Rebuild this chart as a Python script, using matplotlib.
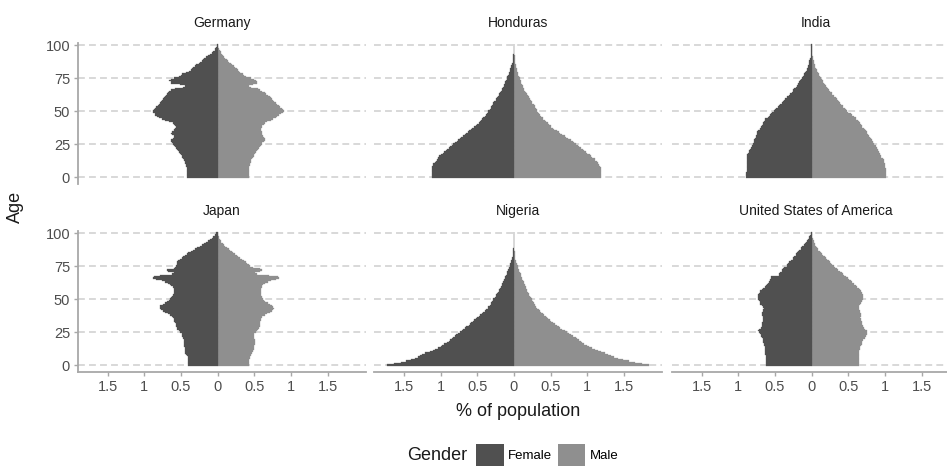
import numpy as np
import matplotlib
matplotlib.use('Agg')
import matplotlib.pyplot as plt
from matplotlib.patches import Patch

plt.rcParams['font.family'] = ['Liberation Sans', 'DejaVu Sans']

# Dados: % da populacao por idade (0 a 100)
idades = list(range(101))
paises = ['Germany', 'Honduras', 'India', 'Japan', 'Nigeria', 'United States of America']

germany_f = [0.42, 0.42, 0.42, 0.42, 0.42, 0.42, 0.42, 0.42, 0.43, 0.43,
             0.44, 0.44, 0.45, 0.46, 0.47, 0.48, 0.49, 0.50, 0.51, 0.53,
             0.54, 0.56, 0.57, 0.58, 0.60, 0.61, 0.62, 0.63, 0.63, 0.61,
             0.60, 0.60, 0.62, 0.63, 0.62, 0.60, 0.59, 0.58, 0.57, 0.58,
             0.59, 0.61, 0.66, 0.72, 0.76, 0.80, 0.83, 0.85, 0.86, 0.88,
             0.88, 0.87, 0.86, 0.84, 0.82, 0.80, 0.78, 0.77, 0.76, 0.74,
             0.73, 0.72, 0.70, 0.69, 0.68, 0.66, 0.63, 0.58, 0.47, 0.45,
             0.52, 0.63, 0.64, 0.66, 0.63, 0.60, 0.53, 0.50, 0.48, 0.43,
             0.39, 0.37, 0.35, 0.33, 0.31, 0.29, 0.26, 0.24, 0.22, 0.20,
             0.18, 0.16, 0.13, 0.10, 0.08, 0.06, 0.04, 0.03, 0.02, 0.01,
             0.005]
germany_m = [0.43, 0.43, 0.43, 0.43, 0.43, 0.43, 0.43, 0.43, 0.43, 0.44,
             0.44, 0.45, 0.45, 0.46, 0.47, 0.48, 0.49, 0.50, 0.51, 0.52,
             0.53, 0.55, 0.56, 0.57, 0.59, 0.60, 0.61, 0.63, 0.65, 0.65,
             0.63, 0.62, 0.61, 0.60, 0.60, 0.59, 0.59, 0.59, 0.60, 0.61,
             0.63, 0.64, 0.67, 0.72, 0.76, 0.79, 0.81, 0.84, 0.86, 0.89,
             0.90, 0.89, 0.87, 0.85, 0.83, 0.81, 0.79, 0.77, 0.76, 0.74,
             0.73, 0.71, 0.68, 0.66, 0.64, 0.61, 0.58, 0.55, 0.45, 0.43,
             0.48, 0.53, 0.53, 0.52, 0.50, 0.45, 0.39, 0.36, 0.34, 0.31,
             0.29, 0.27, 0.26, 0.24, 0.22, 0.20, 0.18, 0.16, 0.14, 0.12,
             0.10, 0.09, 0.07, 0.06, 0.05, 0.04, 0.03, 0.02, 0.01, 0.01,
             0.005]

honduras_f = [1.12, 1.12, 1.12, 1.12, 1.12, 1.12, 1.12, 1.12, 1.12, 1.11,
              1.10, 1.08, 1.07, 1.05, 1.04, 1.03, 1.02, 0.99, 0.97, 0.95,
              0.93, 0.91, 0.89, 0.87, 0.85, 0.83, 0.80, 0.78, 0.76, 0.74,
              0.72, 0.70, 0.67, 0.65, 0.63, 0.61, 0.59, 0.57, 0.55, 0.52,
              0.50, 0.48, 0.46, 0.45, 0.43, 0.42, 0.40, 0.38, 0.37, 0.36,
              0.35, 0.33, 0.32, 0.31, 0.30, 0.29, 0.28, 0.27, 0.25, 0.24,
              0.23, 0.22, 0.21, 0.20, 0.19, 0.18, 0.17, 0.16, 0.15, 0.14,
              0.13, 0.12, 0.12, 0.11, 0.10, 0.09, 0.09, 0.08, 0.07, 0.07,
              0.06, 0.05, 0.05, 0.04, 0.04, 0.03, 0.03, 0.02, 0.02, 0.02,
              0.01, 0.01, 0.01, 0.01, 0.005, 0.005, 0.005, 0.005, 0.005, 0.005,
              0.005]
honduras_m = [1.18, 1.18, 1.18, 1.18, 1.18, 1.18, 1.18, 1.18, 1.17, 1.16,
              1.15, 1.14, 1.13, 1.11, 1.10, 1.07, 1.05, 1.03, 1.00, 0.98,
              0.96, 0.94, 0.91, 0.89, 0.87, 0.85, 0.82, 0.80, 0.78, 0.74,
              0.71, 0.69, 0.66, 0.63, 0.61, 0.58, 0.55, 0.53, 0.51, 0.50,
              0.48, 0.46, 0.44, 0.42, 0.40, 0.39, 0.37, 0.35, 0.34, 0.33,
              0.32, 0.31, 0.30, 0.29, 0.28, 0.27, 0.25, 0.24, 0.23, 0.22,
              0.21, 0.20, 0.19, 0.18, 0.17, 0.15, 0.14, 0.13, 0.12, 0.12,
              0.11, 0.10, 0.10, 0.09, 0.08, 0.08, 0.07, 0.06, 0.06, 0.05,
              0.04, 0.04, 0.04, 0.03, 0.03, 0.03, 0.02, 0.02, 0.02, 0.01,
              0.01, 0.01, 0.01, 0.005, 0.005, 0.005, 0.005, 0.005, 0.005, 0.005,
              0.005]

india_f = [0.89, 0.89, 0.89, 0.89, 0.88, 0.88, 0.88, 0.88, 0.88, 0.88,
           0.88, 0.88, 0.88, 0.88, 0.88, 0.88, 0.88, 0.88, 0.87, 0.86,
           0.85, 0.84, 0.83, 0.82, 0.81, 0.80, 0.79, 0.78, 0.78, 0.77,
           0.76, 0.76, 0.75, 0.74, 0.74, 0.73, 0.71, 0.70, 0.69, 0.68,
           0.67, 0.66, 0.65, 0.64, 0.63, 0.60, 0.58, 0.57, 0.55, 0.54,
           0.52, 0.50, 0.48, 0.46, 0.44, 0.43, 0.41, 0.39, 0.38, 0.36,
           0.34, 0.33, 0.31, 0.29, 0.27, 0.26, 0.25, 0.24, 0.22, 0.20,
           0.19, 0.18, 0.17, 0.16, 0.15, 0.13, 0.12, 0.11, 0.10, 0.09,
           0.08, 0.07, 0.06, 0.05, 0.05, 0.04, 0.04, 0.03, 0.03, 0.02,
           0.02, 0.01, 0.01, 0.01, 0.005, 0.005, 0.005, 0.005, 0.005, 0.005,
           0.005]
india_m = [1.01, 1.01, 1.01, 1.01, 1.01, 1.01, 1.01, 1.00, 1.00, 1.00,
           1.00, 0.99, 0.98, 0.98, 0.97, 0.95, 0.94, 0.93, 0.93, 0.92,
           0.91, 0.90, 0.89, 0.88, 0.87, 0.85, 0.84, 0.83, 0.82, 0.81,
           0.80, 0.78, 0.77, 0.76, 0.75, 0.74, 0.72, 0.71, 0.69, 0.68,
           0.67, 0.66, 0.65, 0.63, 0.61, 0.60, 0.57, 0.55, 0.53, 0.50,
           0.48, 0.47, 0.45, 0.43, 0.42, 0.40, 0.39, 0.37, 0.36, 0.34,
           0.33, 0.31, 0.30, 0.28, 0.27, 0.25, 0.24, 0.22, 0.21, 0.20,
           0.18, 0.17, 0.16, 0.15, 0.14, 0.13, 0.11, 0.10, 0.10, 0.08,
           0.07, 0.07, 0.06, 0.05, 0.05, 0.04, 0.03, 0.03, 0.03, 0.02,
           0.02, 0.015, 0.01, 0.005, 0.005, 0.005, 0.005, 0.005, 0.005, 0.005,
           0.005]

japan_f = [0.40, 0.40, 0.40, 0.40, 0.41, 0.41, 0.41, 0.42, 0.43, 0.44,
           0.45, 0.45, 0.45, 0.45, 0.46, 0.46, 0.46, 0.46, 0.46, 0.46,
           0.47, 0.47, 0.48, 0.48, 0.49, 0.51, 0.53, 0.55, 0.56, 0.57,
           0.57, 0.57, 0.58, 0.59, 0.60, 0.60, 0.61, 0.62, 0.65, 0.68,
           0.72, 0.75, 0.77, 0.79, 0.79, 0.78, 0.75, 0.72, 0.69, 0.66,
           0.65, 0.63, 0.62, 0.61, 0.60, 0.60, 0.60, 0.60, 0.60, 0.61,
           0.63, 0.65, 0.68, 0.72, 0.76, 0.84, 0.88, 0.87, 0.79, 0.62,
           0.60, 0.68, 0.69, 0.60, 0.58, 0.57, 0.56, 0.56, 0.55, 0.54,
           0.52, 0.49, 0.47, 0.45, 0.42, 0.40, 0.37, 0.34, 0.31, 0.28,
           0.24, 0.21, 0.19, 0.16, 0.13, 0.10, 0.08, 0.06, 0.04, 0.03,
           0.02]
japan_m = [0.43, 0.43, 0.43, 0.43, 0.43, 0.44, 0.44, 0.45, 0.46, 0.47,
           0.48, 0.48, 0.49, 0.49, 0.50, 0.50, 0.51, 0.51, 0.51, 0.51,
           0.50, 0.49, 0.49, 0.49, 0.50, 0.52, 0.54, 0.55, 0.56, 0.57,
           0.57, 0.58, 0.58, 0.58, 0.59, 0.59, 0.60, 0.61, 0.64, 0.67,
           0.71, 0.74, 0.76, 0.77, 0.76, 0.74, 0.71, 0.68, 0.65, 0.63,
           0.62, 0.61, 0.60, 0.59, 0.59, 0.59, 0.59, 0.59, 0.59, 0.60,
           0.61, 0.62, 0.64, 0.68, 0.73, 0.80, 0.83, 0.82, 0.70, 0.53,
           0.51, 0.58, 0.60, 0.58, 0.48, 0.44, 0.42, 0.40, 0.38, 0.36,
           0.33, 0.30, 0.28, 0.26, 0.24, 0.21, 0.19, 0.17, 0.15, 0.12,
           0.10, 0.08, 0.07, 0.05, 0.04, 0.03, 0.02, 0.02, 0.01, 0.01,
           0.005]

nigeria_f = [1.73, 1.63, 1.54, 1.47, 1.40, 1.35, 1.31, 1.28, 1.25, 1.22,
             1.15, 1.11, 1.08, 1.04, 1.00, 0.98, 0.95, 0.92, 0.89, 0.87,
             0.85, 0.83, 0.81, 0.79, 0.76, 0.74, 0.71, 0.69, 0.67, 0.65,
             0.62, 0.60, 0.58, 0.56, 0.54, 0.52, 0.50, 0.48, 0.46, 0.44,
             0.42, 0.40, 0.38, 0.36, 0.35, 0.33, 0.32, 0.31, 0.30, 0.29,
             0.28, 0.26, 0.25, 0.24, 0.23, 0.22, 0.21, 0.20, 0.19, 0.18,
             0.17, 0.16, 0.16, 0.15, 0.14, 0.13, 0.12, 0.12, 0.11, 0.10,
             0.09, 0.09, 0.08, 0.07, 0.07, 0.06, 0.05, 0.05, 0.04, 0.04,
             0.03, 0.03, 0.02, 0.02, 0.02, 0.015, 0.01, 0.01, 0.01, 0.005,
             0.005, 0.005, 0.005, 0.005, 0.005, 0.005, 0.005, 0.005, 0.005, 0.005,
             0.005]
nigeria_m = [1.84, 1.74, 1.65, 1.57, 1.49, 1.42, 1.37, 1.32, 1.28, 1.24,
             1.18, 1.14, 1.10, 1.06, 1.02, 0.99, 0.96, 0.93, 0.91, 0.89,
             0.86, 0.84, 0.81, 0.78, 0.75, 0.72, 0.69, 0.66, 0.63, 0.61,
             0.58, 0.56, 0.53, 0.51, 0.49, 0.47, 0.45, 0.43, 0.41, 0.39,
             0.37, 0.35, 0.34, 0.32, 0.30, 0.29, 0.28, 0.27, 0.26, 0.25,
             0.24, 0.23, 0.22, 0.21, 0.20, 0.19, 0.18, 0.18, 0.17, 0.16,
             0.15, 0.15, 0.14, 0.13, 0.12, 0.11, 0.11, 0.10, 0.09, 0.09,
             0.08, 0.07, 0.07, 0.06, 0.06, 0.05, 0.04, 0.04, 0.03, 0.03,
             0.02, 0.02, 0.02, 0.015, 0.01, 0.01, 0.01, 0.005, 0.005, 0.005,
             0.005, 0.005, 0.005, 0.005, 0.005, 0.005, 0.005, 0.005, 0.005, 0.005,
             0.005]

usa_f = [0.62, 0.62, 0.62, 0.62, 0.62, 0.62, 0.62, 0.62, 0.63, 0.63,
         0.64, 0.64, 0.64, 0.64, 0.64, 0.65, 0.65, 0.66, 0.66, 0.66,
         0.67, 0.68, 0.69, 0.69, 0.70, 0.72, 0.73, 0.72, 0.69, 0.68,
         0.68, 0.68, 0.68, 0.67, 0.67, 0.67, 0.66, 0.67, 0.68, 0.68,
         0.68, 0.67, 0.66, 0.65, 0.66, 0.68, 0.70, 0.70, 0.71, 0.72,
         0.73, 0.73, 0.73, 0.73, 0.72, 0.71, 0.70, 0.68, 0.66, 0.64,
         0.62, 0.61, 0.60, 0.58, 0.57, 0.57, 0.56, 0.55, 0.45, 0.44,
         0.43, 0.41, 0.40, 0.39, 0.38, 0.34, 0.33, 0.32, 0.31, 0.28,
         0.26, 0.25, 0.24, 0.22, 0.21, 0.20, 0.19, 0.17, 0.15, 0.14,
         0.13, 0.11, 0.09, 0.08, 0.07, 0.05, 0.04, 0.03, 0.02, 0.015,
         0.01]
usa_m = [0.64, 0.64, 0.64, 0.64, 0.64, 0.64, 0.64, 0.64, 0.65, 0.65,
         0.65, 0.65, 0.66, 0.66, 0.66, 0.67, 0.68, 0.68, 0.69, 0.70,
         0.72, 0.73, 0.74, 0.75, 0.75, 0.76, 0.75, 0.73, 0.71, 0.70,
         0.70, 0.69, 0.69, 0.68, 0.67, 0.67, 0.66, 0.67, 0.67, 0.67,
         0.66, 0.66, 0.65, 0.64, 0.65, 0.65, 0.66, 0.67, 0.68, 0.69,
         0.70, 0.70, 0.70, 0.70, 0.69, 0.68, 0.67, 0.66, 0.64, 0.62,
         0.60, 0.58, 0.57, 0.55, 0.53, 0.51, 0.49, 0.47, 0.44, 0.42,
         0.41, 0.39, 0.36, 0.34, 0.32, 0.30, 0.28, 0.26, 0.25, 0.23,
         0.21, 0.19, 0.18, 0.16, 0.14, 0.12, 0.11, 0.09, 0.08, 0.07,
         0.06, 0.05, 0.04, 0.03, 0.03, 0.02, 0.02, 0.01, 0.01, 0.01,
         0.005]

femininos = [germany_f, honduras_f, india_f, japan_f, nigeria_f, usa_f]
masculinos = [germany_m, honduras_m, india_m, japan_m, nigeria_m, usa_m]

x_ticks = [-1.5, -1, -0.5, 0, 0.5, 1, 1.5]
x_tick_labels = ['1.5', '1', '0.5', '0', '0.5', '1', '1.5']
y_ticks = [0, 25, 50, 75, 100]

cor_fem = '#505050'
cor_masc = '#8f8f8f'
cor_eixo = '#a8a8a8'

# Limites em x como no ggplot (expansao de 5%)
lo = -max(max(f) for f in femininos)
hi = max(max(m) for m in masculinos)
pad = 0.05 * (hi - lo)
xlim = (lo - pad, hi + pad)

W, H = 947, 466
fig = plt.figure(figsize=(W / 100, H / 100), dpi=100)

px_por_unidade = 73.35
zeros_px = [217.7, 514.0, 811.7]
topos_px = [43.3, 231.3]
altura_px = 140.7
largura_px = (xlim[1] - xlim[0]) * px_por_unidade

for i, pais in enumerate(paises):
    lin, col = divmod(i, 3)
    esq = zeros_px[col] + xlim[0] * px_por_unidade
    base = H - (topos_px[lin] + altura_px)
    ax = fig.add_axes([esq / W, base / H, largura_px / W, altura_px / H])

    # masculino primeiro, feminino por cima (linha fina escura no topo)
    ax.barh(idades, masculinos[i], height=1.0, color=cor_masc,
            edgecolor=cor_masc, linewidth=0.2)
    ax.barh(idades, [-v for v in femininos[i]], height=1.0, color=cor_fem,
            edgecolor=cor_fem, linewidth=0.2)

    ax.set_xlim(xlim)
    ax.set_ylim(-5.3, 101.3)
    ax.set_axisbelow(True)
    ax.set_yticks(y_ticks)
    ax.set_xticks(x_ticks)
    ax.grid(axis='y', color='#d6d6d6', linewidth=1.3, linestyle=(0, (3.8, 2.3)))
    ax.grid(axis='x', visible=False)

    for s in ax.spines.values():
        s.set_visible(False)

    if col == 0:
        ax.spines['left'].set_visible(True)
        ax.spines['left'].set_color(cor_eixo)
        ax.spines['left'].set_linewidth(1.3)
        ax.tick_params(axis='y', colors=cor_eixo, labelcolor='#4d4d4d',
                       labelsize=10.5, length=3, width=1.0, pad=2.5)
    else:
        ax.tick_params(axis='y', left=False, labelleft=False)

    if lin == 1:
        ax.spines['bottom'].set_visible(True)
        ax.spines['bottom'].set_color(cor_eixo)
        ax.spines['bottom'].set_linewidth(1.3)
        ax.set_xticklabels(x_tick_labels)
        ax.tick_params(axis='x', colors=cor_eixo, labelcolor='#4d4d4d',
                       labelsize=10.5, length=3, width=1.0, pad=3)
    else:
        ax.tick_params(axis='x', bottom=False, labelbottom=False)

    ax.set_title(pais, fontsize=10, color='#1a1a1a', pad=11.5)

fig.text(15 / W, 1 - 207 / H, 'Age', rotation=90, fontsize=13,
         color='#1a1a1a', ha='center', va='center')
fig.text(518 / W, 1 - 411 / H, '% of population', fontsize=13,
         color='#1a1a1a', ha='center', va='center')

# Legenda com titulo a esquerda
fig.text(467 / W, 1 - 455 / H, 'Gender', fontsize=13, color='#1a1a1a',
         ha='right', va='center')
handles = [Patch(facecolor=cor_fem, edgecolor='none', label='Female'),
           Patch(facecolor=cor_masc, edgecolor='none', label='Male')]
fig.legend(handles=handles, loc='center left', bbox_to_anchor=(476 / W, 1 - 455 / H),
           ncol=2, frameon=False, fontsize=9.5, handlelength=2.1, handleheight=2.1,
           handletextpad=0.35, columnspacing=0.4, borderpad=0, borderaxespad=0)

fig.savefig('out.png', dpi=100, facecolor='white')
